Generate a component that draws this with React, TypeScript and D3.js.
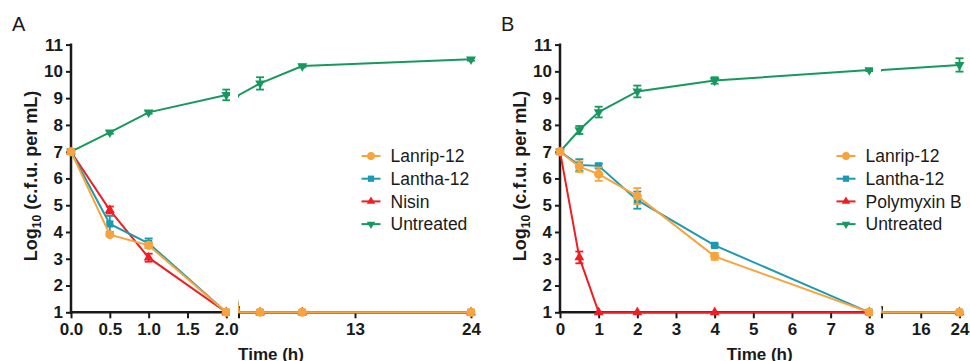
import * as d3 from 'd3'
import { useEffect, useRef } from 'react'

// sampling times (h), shared by both panels
const times = [0, 0.5, 1, 2, 4, 8, 24]

// panel A
const lanripA = [7, 3.9, 3.5, 1, 1, 1, 1]
const lanripAErr = [0, 0.05, 0.1, 0, 0, 0, 0]
const lanthaA = [7, 4.3, 3.58, 1, 1, 1, 1]
const lanthaAErr = [0, 0.3, 0.18, 0, 0, 0, 0]
const nisinA = [7, 4.82, 3.04, 1, 1, 1, 1]
const nisinAErr = [0, 0.13, 0.15, 0, 0, 0, 0]
const untreatedA = [7, 7.72, 8.47, 9.12, 9.55, 10.2, 10.45]
const untreatedAErr = [0, 0.05, 0.05, 0.2, 0.23, 0.05, 0.05]

// panel B
const lanripB = [7, 6.44, 6.16, 5.34, 3.09, 1, 1]
const lanripBErr = [0, 0.2, 0.25, 0.3, 0.13, 0, 0]
const lanthaB = [7, 6.5, 6.47, 5.19, 3.5, 1, 1]
const lanthaBErr = [0, 0.22, 0.08, 0.32, 0.05, 0, 0]
const polymyxinB = [7, 3.05, 1, 1, 1, 1, 1]
const polymyxinBErr = [0, 0.22, 0, 0, 0, 0, 0]
const untreatedB = [7, 7.81, 8.48, 9.25, 9.66, 10.05, 10.24]
const untreatedBErr = [0, 0.15, 0.2, 0.22, 0.12, 0.04, 0.25]

const yTicks = [1, 2, 3, 4, 5, 6, 7, 8, 9, 10, 11]
const ticksA1 = [0, 0.5, 1, 1.5, 2]
const ticksA2 = [13, 24]
const ticksB1 = [0, 1, 2, 3, 4, 5, 6, 7, 8]
const ticksB2 = [16, 24]

const FONT = 'Arial, "Liberation Sans", Helvetica, sans-serif'
const ORANGE = '#f9a33c'
const TEAL = '#1b9ab2'
const RED = '#f01d22'
const GREEN = '#17985f'
const INK = '#1a1a1a'

type Series = {
  name: string
  color: string
  symbol: d3.SymbolType
  size: number
  rotate: number
  values: number[]
  errors: number[]
}

type Panel = {
  id: string
  label: string
  axisX: number
  seg1: [number, number, number, number] // d0, d1, r0, r1
  seg1End: number
  seg2: [number, number, number, number]
  ticks1: number[]
  ticks2: number[]
  fmt1: string
  legendX: number
  series: Series[]
}

const mk = (name, color, symbol, size, rotate, values, errors): Series => ({
  name, color, symbol, size, rotate, values, errors,
})

const panels: Panel[] = [
  {
    id: 'a', label: 'A', axisX: 71,
    seg1: [0, 2, 71, 226.3], seg1End: 229.5,
    seg2: [2, 24, 239, 471],
    ticks1: ticksA1, ticks2: ticksA2, fmt1: '.1f', legendX: 371,
    series: [
      mk('Lanrip-12', ORANGE, d3.symbolCircle, 64, 0, lanripA, lanripAErr),
      mk('Lantha-12', TEAL, d3.symbolSquare, 52, 0, lanthaA, lanthaAErr),
      mk('Nisin', RED, d3.symbolTriangle, 42, 0, nisinA, nisinAErr),
      mk('Untreated', GREEN, d3.symbolTriangle, 42, 180, untreatedA, untreatedAErr),
    ],
  },
  {
    id: 'b', label: 'B', axisX: 560,
    seg1: [0, 8, 560, 869.3], seg1End: 872.5,
    seg2: [8, 24, 882, 959.5],
    ticks1: ticksB1, ticks2: ticksB2, fmt1: 'd', legendX: 846,
    series: [
      mk('Lanrip-12', ORANGE, d3.symbolCircle, 64, 0, lanripB, lanripBErr),
      mk('Lantha-12', TEAL, d3.symbolSquare, 52, 0, lanthaB, lanthaBErr),
      mk('Polymyxin B', RED, d3.symbolTriangle, 42, 0, polymyxinB, polymyxinBErr),
      mk('Untreated', GREEN, d3.symbolTriangle, 42, 180, untreatedB, untreatedBErr),
    ],
  },
]

const App = () => {
  const ref = useRef<SVGSVGElement>(null)

  useEffect(() => {
    const svg = d3.select(ref.current)
    svg.selectAll('*').remove()

    const y = d3.scaleLinear().domain([1, 11]).range([312.3, 44.6])
    const defs = svg.append('defs')

    panels.forEach(function (p) {
      const x1 = d3.scaleLinear().domain([p.seg1[0], p.seg1[1]]).range([p.seg1[2], p.seg1[3]])
      const x2 = d3.scaleLinear().domain([p.seg2[0], p.seg2[1]]).range([p.seg2[2], p.seg2[3]])
      const g = svg.append('g').style('font-family', FONT)

      // clip regions for the two x segments
      defs.append('clipPath').attr('id', 'clip1' + p.id)
        .append('rect').attr('x', p.axisX - 20).attr('y', 0)
        .attr('width', p.seg1End + 0.5 - (p.axisX - 20)).attr('height', 361)
      defs.append('clipPath').attr('id', 'clip2' + p.id)
        .append('rect').attr('x', p.seg2[2] - 1).attr('y', 0)
        .attr('width', 100 + p.seg2[3] - p.seg2[2]).attr('height', 361)

      // panel label
      g.append('text')
        .attr('x', p.axisX - 59).attr('y', 31)
        .style('font-size', '20px').attr('fill', INK)
        .text(p.label)

      // y axis
      const yAxis = g.append('g')
        .attr('transform', 'translate(' + p.axisX + ',0)')
        .call(d3.axisLeft(y).tickValues(yTicks).tickSize(5).tickPadding(3).tickSizeOuter(0))
      yAxis.select('.domain').remove()
      yAxis.selectAll('line').attr('stroke', INK).attr('stroke-width', 2)
      yAxis.selectAll('text')
        .style('font-family', FONT).style('font-size', '17px').style('font-weight', 'bold')
        .attr('fill', INK)
      g.append('line')
        .attr('x1', p.axisX).attr('x2', p.axisX)
        .attr('y1', y(11) - 1).attr('y2', y(1) + 1.2)
        .attr('stroke', INK).attr('stroke-width', 2.5)

      // y title
      const yt = g.append('text')
        .attr('transform', 'translate(' + (p.axisX - 34.5) + ',176) rotate(-90)')
        .attr('text-anchor', 'middle')
        .style('font-size', '18px').style('font-weight', 'bold').attr('fill', INK)
      yt.append('tspan').text('Log')
      yt.append('tspan').attr('dy', 4).style('font-size', '12px').text('10')
      yt.append('tspan').attr('dy', -4).text(' (c.f.u. per mL)')

      // x axes (two segments)
      const xa1 = g.append('g')
        .attr('transform', 'translate(0,' + y(1) + ')')
        .call(d3.axisBottom(x1).tickValues(p.ticks1).tickFormat(d3.format(p.fmt1)).tickSize(6).tickPadding(4.5))
      const xa2 = g.append('g')
        .attr('transform', 'translate(0,' + y(1) + ')')
        .call(d3.axisBottom(x2).tickValues(p.ticks2).tickFormat(d3.format('d')).tickSize(6).tickPadding(4.5))
      ;[xa1, xa2].forEach(function (a) {
        a.select('.domain').remove()
        a.selectAll('line').attr('stroke', INK).attr('stroke-width', 2)
        a.selectAll('text')
          .style('font-family', FONT).style('font-size', '17px').style('font-weight', 'bold')
          .attr('fill', INK)
      })
      g.append('line')
        .attr('x1', p.axisX - 1.2).attr('x2', p.seg1End)
        .attr('y1', y(1)).attr('y2', y(1))
        .attr('stroke', INK).attr('stroke-width', 2.5)
      g.append('line')
        .attr('x1', p.seg2[2]).attr('x2', p.seg2[3] + 1)
        .attr('y1', y(1)).attr('y2', y(1))
        .attr('stroke', INK).attr('stroke-width', 2.5)
      g.append('line')
        .attr('x1', p.seg2[2]).attr('x2', p.seg2[2])
        .attr('y1', y(1) - 6).attr('y2', y(1) + 6)
        .attr('stroke', INK).attr('stroke-width', 2)

      // x title
      g.append('text')
        .attr('x', (p.axisX + p.seg2[3]) / 2).attr('y', 360)
        .attr('text-anchor', 'middle')
        .style('font-size', '17px').style('font-weight', 'bold').attr('fill', INK)
        .text('Time (h)')

      // data, drawn back to front (Untreated first)
      const segs = [
        { sx: x1, clip: 'clip1' + p.id, keep: (t) => t <= p.seg1[1] },
        { sx: x2, clip: 'clip2' + p.id, keep: (t) => t > p.seg2[0] },
      ]
      p.series.slice().reverse().forEach(function (s) {
        segs.forEach(function (sg) {
          const layer = g.append('g').attr('clip-path', 'url(#' + sg.clip + ')')
          const line = d3.line<number>()
            .x((d, i) => sg.sx(times[i]))
            .y((d) => y(d))
          layer.append('path')
            .attr('d', line(s.values))
            .attr('fill', 'none').attr('stroke', s.color).attr('stroke-width', 2)

          const idx = d3.range(times.length).filter((i) => sg.keep(times[i]))
          idx.filter((i) => s.errors[i] > 0).forEach(function (i) {
            const cx = sg.sx(times[i])
            const lo = y(s.values[i] - s.errors[i])
            const hi = y(s.values[i] + s.errors[i])
            const eb = layer.append('g').attr('stroke', s.color).attr('stroke-width', 1.8)
            eb.append('line').attr('x1', cx).attr('x2', cx).attr('y1', lo).attr('y2', hi)
            eb.append('line').attr('x1', cx - 4).attr('x2', cx + 4).attr('y1', lo).attr('y2', lo)
            eb.append('line').attr('x1', cx - 4).attr('x2', cx + 4).attr('y1', hi).attr('y2', hi)
          })
          layer.selectAll(null)
            .data(idx)
            .enter()
            .append('path')
            .attr('d', d3.symbol().type(s.symbol).size(s.size)())
            .attr('transform', (i) =>
              'translate(' + sg.sx(times[i]) + ',' + y(s.values[i]) + ') rotate(' + s.rotate + ')')
            .attr('fill', s.color)
        })
      })

      // legend
      p.series.forEach(function (s, i) {
        const ly = 156 + i * 22.7
        const lg = g.append('g')
        lg.append('line')
          .attr('x1', p.legendX - 9.5).attr('x2', p.legendX + 9.5)
          .attr('y1', ly).attr('y2', ly)
          .attr('stroke', s.color).attr('stroke-width', 2)
        lg.append('path')
          .attr('d', d3.symbol().type(s.symbol).size(s.size * 0.75)())
          .attr('transform', 'translate(' + p.legendX + ',' + ly + ') rotate(' + s.rotate + ')')
          .attr('fill', s.color)
        lg.append('text')
          .attr('x', p.legendX + 19.5).attr('y', ly).attr('dy', '0.36em')
          .style('font-size', '17.5px').attr('fill', INK)
          .text(s.name)
      })
    })
  }, [])

  return (
    <svg
      ref={ref}
      width={970}
      height={361}
      style={{ position: 'absolute', left: 0, top: 0, background: '#fff' }}
    />
  )
}

export default App
